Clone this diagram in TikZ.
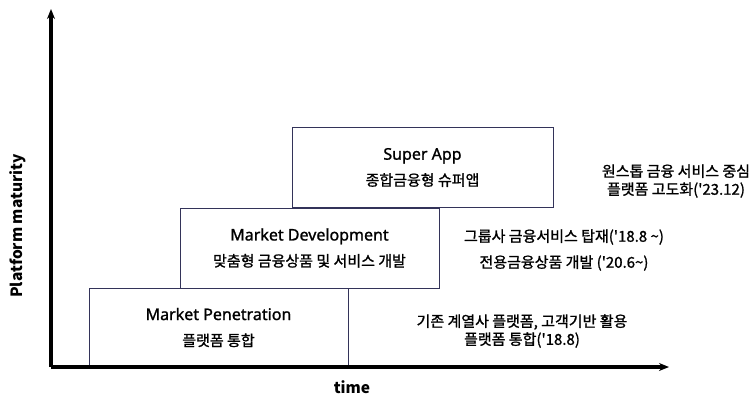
\documentclass[tikz,border=0pt]{standalone}
\usepackage{tikz}
\usetikzlibrary{positioning,arrows.meta}
\usepackage{fontspec}
\setmainfont{Noto Sans}
\newfontfamily\enfont{Noto Sans}[RawFeature={embolden=1.2}]
\newfontfamily\krfont{Noto Sans CJK KR}[RawFeature={embolden=1.2}]
\newfontfamily\labfont{Noto Sans CJK KR}

\begin{document}
\begin{tikzpicture}[x=1pt,y=-1pt,>={Stealth[length=10pt,width=8pt]},
	stage/.style={draw=black!75!blue!60!gray,line width=.8pt,
		minimum width=259pt,minimum height=80pt,
		align=center,font=\enfont\fontsize{16}{18}\selectfont,
		inner sep=0pt,outer sep=0pt},
	note/.style={align=center,font=\krfont\fontsize{15}{18}\selectfont},
	axislab/.style={font=\labfont\bfseries\fontsize{15.5}{16}\selectfont},
	axis/.style={line width=3.4pt,->}]
\useasboundingbox (0,0) rectangle (753,397);
\coordinate (O) at (51,367);
\coordinate (ytop) at (51,9);
\coordinate (xend) at (669,367);

% stages
\node[stage,minimum height=79pt] (pen) at (218.5,327.5) {Market Penetration\\[8pt]{\krfont\fontsize{15}{18}\selectfont 플랫폼 통합}};
\node[stage] (dev) at (309.5,248) {Market Development\\[8pt]{\krfont\fontsize{15}{18}\selectfont 맞춤형 금융상품 및 서비스 개발}};
\node[stage,minimum width=261pt] (app) at (422.5,167.5) {Super App\\[8pt]{\krfont\fontsize{15}{18}\selectfont 종합금융형 슈퍼앱}};

% notes
\node[note] (n1) at (522,331) {기존 계열사 플랫폼, 고객기반 활용\\[0pt]플랫폼 통합('18.8)};
\node[note] (n2) at (564,250) {그룹사 금융서비스 탑재('18.8 \textasciitilde)\\[8pt]전용금융상품 개발 ('20.6\textasciitilde)};
\node[note] (n3) at (676,181) {원스톱 금융 서비스 중심\\[0pt]플랫폼 고도화('23.12)};

% axes
\draw[axis] (O)--(ytop);
\draw[axis] (O)--(xend);
\node[axislab] (xlab) at (352,387) {time};
\node[axislab,rotate=90] (ylab) at (18,226) {Platform maturity};
\end{tikzpicture}
\end{document}
